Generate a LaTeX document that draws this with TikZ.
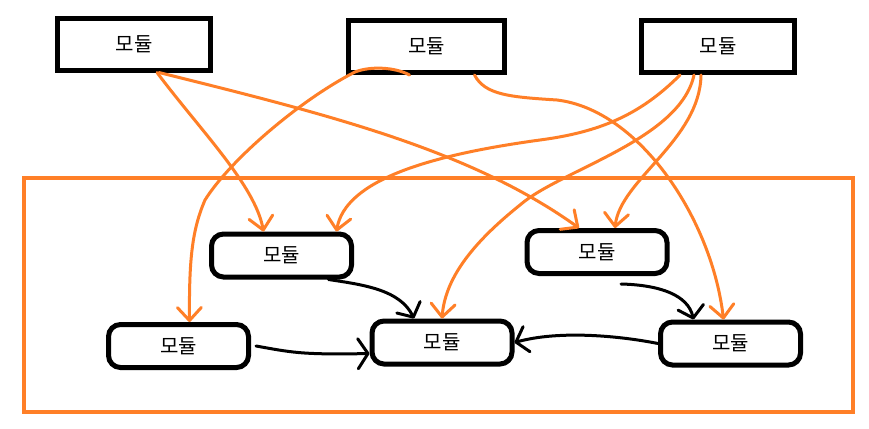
\documentclass[tikz,border=0pt]{standalone}
\usepackage{fontspec}
\newfontfamily\krfont{Noto Sans CJK KR}
\usetikzlibrary{arrows.meta}
\definecolor{paintorange}{RGB}{255,127,39}
\begin{document}
\begin{tikzpicture}[x=1pt,y=-1pt,
  lbl/.style={font=\krfont\fontsize{20}{20}\selectfont},
  topbox/.style={lbl,draw=black,line width=5pt,minimum width=153pt,minimum height=51pt,inner sep=0pt},
  modbox/.style={lbl,draw=black,line width=5pt,rounded corners=12pt,minimum width=140pt,minimum height=43pt,inner sep=0pt},
  oarr/.style={draw=paintorange,line width=3pt,line cap=round,line join=round,-{Straight Barb[length=13pt,width=24pt,round]}},
  barr/.style={draw=black,line width=3pt,line cap=round,line join=round,-{Straight Barb[length=11pt,width=26pt,round]}}]
\useasboundingbox (0,0) rectangle (869,428);
\fill[white] (0,0) rectangle (869,428);
% container
\node[draw=paintorange,line width=4pt,minimum width=829pt,minimum height=234pt,inner sep=0pt] (frame) at (438.5,295) {};
% top modules
\node[topbox] (t1) at (134,44.5) {모듈};
\node[topbox,minimum width=156pt,minimum height=52pt] (t2) at (426.5,46.5) {모듈};
\node[topbox,minimum height=52pt] (t3) at (718,46.5) {모듈};
% inner modules
\node[modbox] (a) at (281.5,255.5) {모듈};
\node[modbox] (b) at (597,252) {모듈};
\node[modbox] (c) at (178.5,346) {모듈};
\node[modbox] (d) at (442,342.5) {모듈};
\node[modbox] (e) at (730.5,343.5) {모듈};
% orange connectors
\draw[oarr] ([xshift=23pt]t1.south) .. controls (200,130) and (255,185) .. ([xshift=-18pt]a.north);
\draw[oarr] ([xshift=25pt]t1.south) .. controls (330,115) and (470,150) .. ([xshift=-18pt]b.north);
\draw[oarr] ([xshift=-17pt]t2.south) .. controls (395,67) and (370,66) .. (355,72)
   .. controls (300,100) and (230,160) .. (205,200)
   .. controls (192,230) and (189,260) .. ([xshift=11pt]c.north);
\draw[oarr] ([xshift=48pt]t2.south) .. controls (485,95) and (510,97) .. (557,100)
   .. controls (640,110) and (712,220) .. ([xshift=-7pt]e.north);
\draw[oarr] ([xshift=-38pt]t3.south) .. controls (640,115) and (600,132) .. (540,140)
   .. controls (430,155) and (345,180) .. ([xshift=55pt]a.north);
\draw[oarr] ([xshift=-24pt]t3.south) .. controls (680,140) and (560,170) .. (520,205)
   .. controls (470,245) and (445,280) .. (d.north);
\draw[oarr] ([xshift=-17pt]t3.south) .. controls (700,140) and (620,180) .. ([xshift=18pt]b.north);
% black connectors
\draw[barr] ([xshift=47pt]a.south) .. controls (365,285) and (400,290) .. ([xshift=-28pt]d.north);
\draw[barr] ([xshift=24pt,yshift=-8pt]b.south) .. controls (660,285) and (688,295) .. ([xshift=-37pt]e.north);
\draw[barr,-{Straight Barb[length=10pt,width=30pt,round]}] ([xshift=5pt]c.east) .. controls (290,352) and (300,355) .. ([yshift=-11pt]d.west);
\draw[barr] (e.west) .. controls (620,336) and (560,330) .. (d.east);
\end{tikzpicture}
\end{document}
